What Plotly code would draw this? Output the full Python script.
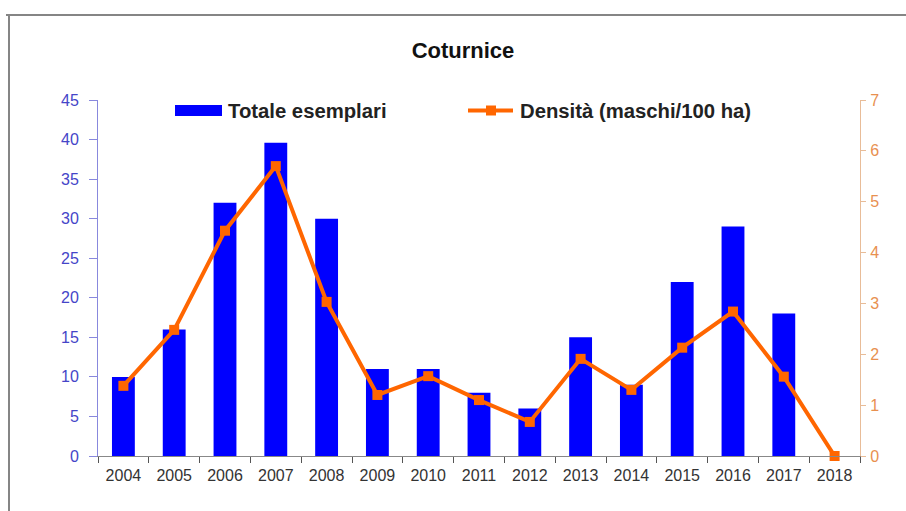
import plotly.graph_objects as go

years = ["2004", "2005", "2006", "2007", "2008", "2009", "2010", "2011",
         "2012", "2013", "2014", "2015", "2016", "2017", "2018"]
totale = [10, 16, 32, 39.6, 30, 11, 11, 8, 6, 15, 9, 22, 29, 18, 0]
densita = [1.38, 2.48, 4.43, 5.70, 3.03, 1.20, 1.57, 1.10, 0.67, 1.91,
           1.30, 2.13, 2.84, 1.56, 0.0]

W, H = 906, 511
# plot area in page coordinates (body margin removed by post_script)
PL, PR, PT, PB = 98, 860, 100, 456
L, T = PL, PT
R, B = W - PR, H - PB
PW = PR - PL
PH = PB - PT

def px(x):
    return (x - PL) / PW

def py(y):
    return (PB - y) / PH

FONT = "Liberation Sans, Arial, sans-serif"
BLUE = "#0000ff"
ORANGE = "#ff6600"

fig = go.Figure()
fig.add_trace(go.Bar(x=years, y=totale, name="Totale esemplari",
                     marker=dict(color=BLUE, line=dict(width=0)),
                     showlegend=False, yaxis="y"))
fig.add_trace(go.Scatter(x=years, y=densita, name="Densità (maschi/100 ha)",
                         mode="lines+markers",
                         line=dict(color=ORANGE, width=4),
                         marker=dict(symbol="square", size=10, color=ORANGE),
                         showlegend=False, yaxis="y2", cliponaxis=False))

shapes = [
    # outer frame
    dict(type="line", xref="paper", yref="paper", x0=px(6), x1=px(910), y0=py(15), y1=py(15),
         line=dict(color="#858585", width=2)),
    dict(type="line", xref="paper", yref="paper", x0=px(9), x1=px(9), y0=py(15), y1=py(515),
         line=dict(color="#858585", width=2)),
    # legend symbols
    dict(type="rect", xref="paper", yref="paper", x0=px(175), x1=px(222), y0=py(116), y1=py(105),
         fillcolor=BLUE, line=dict(width=0)),
    dict(type="line", xref="paper", yref="paper", x0=px(468), x1=px(513), y0=py(110.5), y1=py(110.5),
         line=dict(color=ORANGE, width=4)),
    dict(type="rect", xref="paper", yref="paper", x0=px(486), x1=px(496), y0=py(115.5), y1=py(105.5),
         fillcolor=ORANGE, line=dict(width=0)),
]

annotations = [
    dict(text="<b>Totale esemplari</b>", xref="paper", yref="paper", x=px(226), y=py(110.5),
         xanchor="left", yanchor="middle", showarrow=False,
         font=dict(family=FONT, size=20.3, color="#222222")),
    dict(text="<b>Densità (maschi/100 ha)</b>", xref="paper", yref="paper", x=px(518), y=py(110.5),
         xanchor="left", yanchor="middle", showarrow=False,
         font=dict(family=FONT, size=20.3, color="#222222")),
]

fig.update_layout(
    width=W, height=H,
    margin=dict(l=L, r=R, t=T, b=B, pad=0),
    paper_bgcolor="white", plot_bgcolor="white",
    font=dict(family=FONT),
    title=dict(text="<b>Coturnice</b>", x=463 / W, xref="container", xanchor="center",
               y=1 - 50 / H, yref="container", yanchor="middle",
               font=dict(family=FONT, size=22, color="#111111")),
    bargap=0.55,
    xaxis=dict(type="category", range=[-0.5, 14.5], tickson="boundaries",
               ticks="outside", ticklen=6, tickcolor="#555555", tickwidth=1,
               showline=True, linecolor="#888888", linewidth=1,
               showgrid=False, zeroline=False, ticklabelstandoff=5,
               tickfont=dict(family=FONT, size=16, color="#333333")),
    yaxis=dict(range=[0, 45], dtick=5, tick0=0, ticks="outside", ticklen=8,
               tickcolor="#8888dd", showline=True, linecolor="#8888dd", linewidth=1,
               showgrid=False, zeroline=False, ticklabelstandoff=7,
               tickfont=dict(family=FONT, size=16, color="#4545c8")),
    yaxis2=dict(range=[0, 7], dtick=1, tick0=0, overlaying="y", side="right",
                ticks="outside", ticklen=5, tickcolor="#e8bc98",
                showline=True, linecolor="#e8bc98", linewidth=1,
                showgrid=False, zeroline=False, ticklabelstandoff=1,
                tickfont=dict(family=FONT, size=16, color="#e89050")),
    yaxis3=dict(range=[0, 7], dtick=1, tick0=0, overlaying="y", side="right",
                ticks="inside", ticklen=8, tickcolor="#e8bc98",
                showline=False, showticklabels=False,
                showgrid=False, zeroline=False),
    shapes=shapes,
    annotations=annotations,
)

fig.write_html("out.html",
               config={"displayModeBar": False},
               post_script="document.body.style.margin='0';document.body.style.overflow='hidden';")
